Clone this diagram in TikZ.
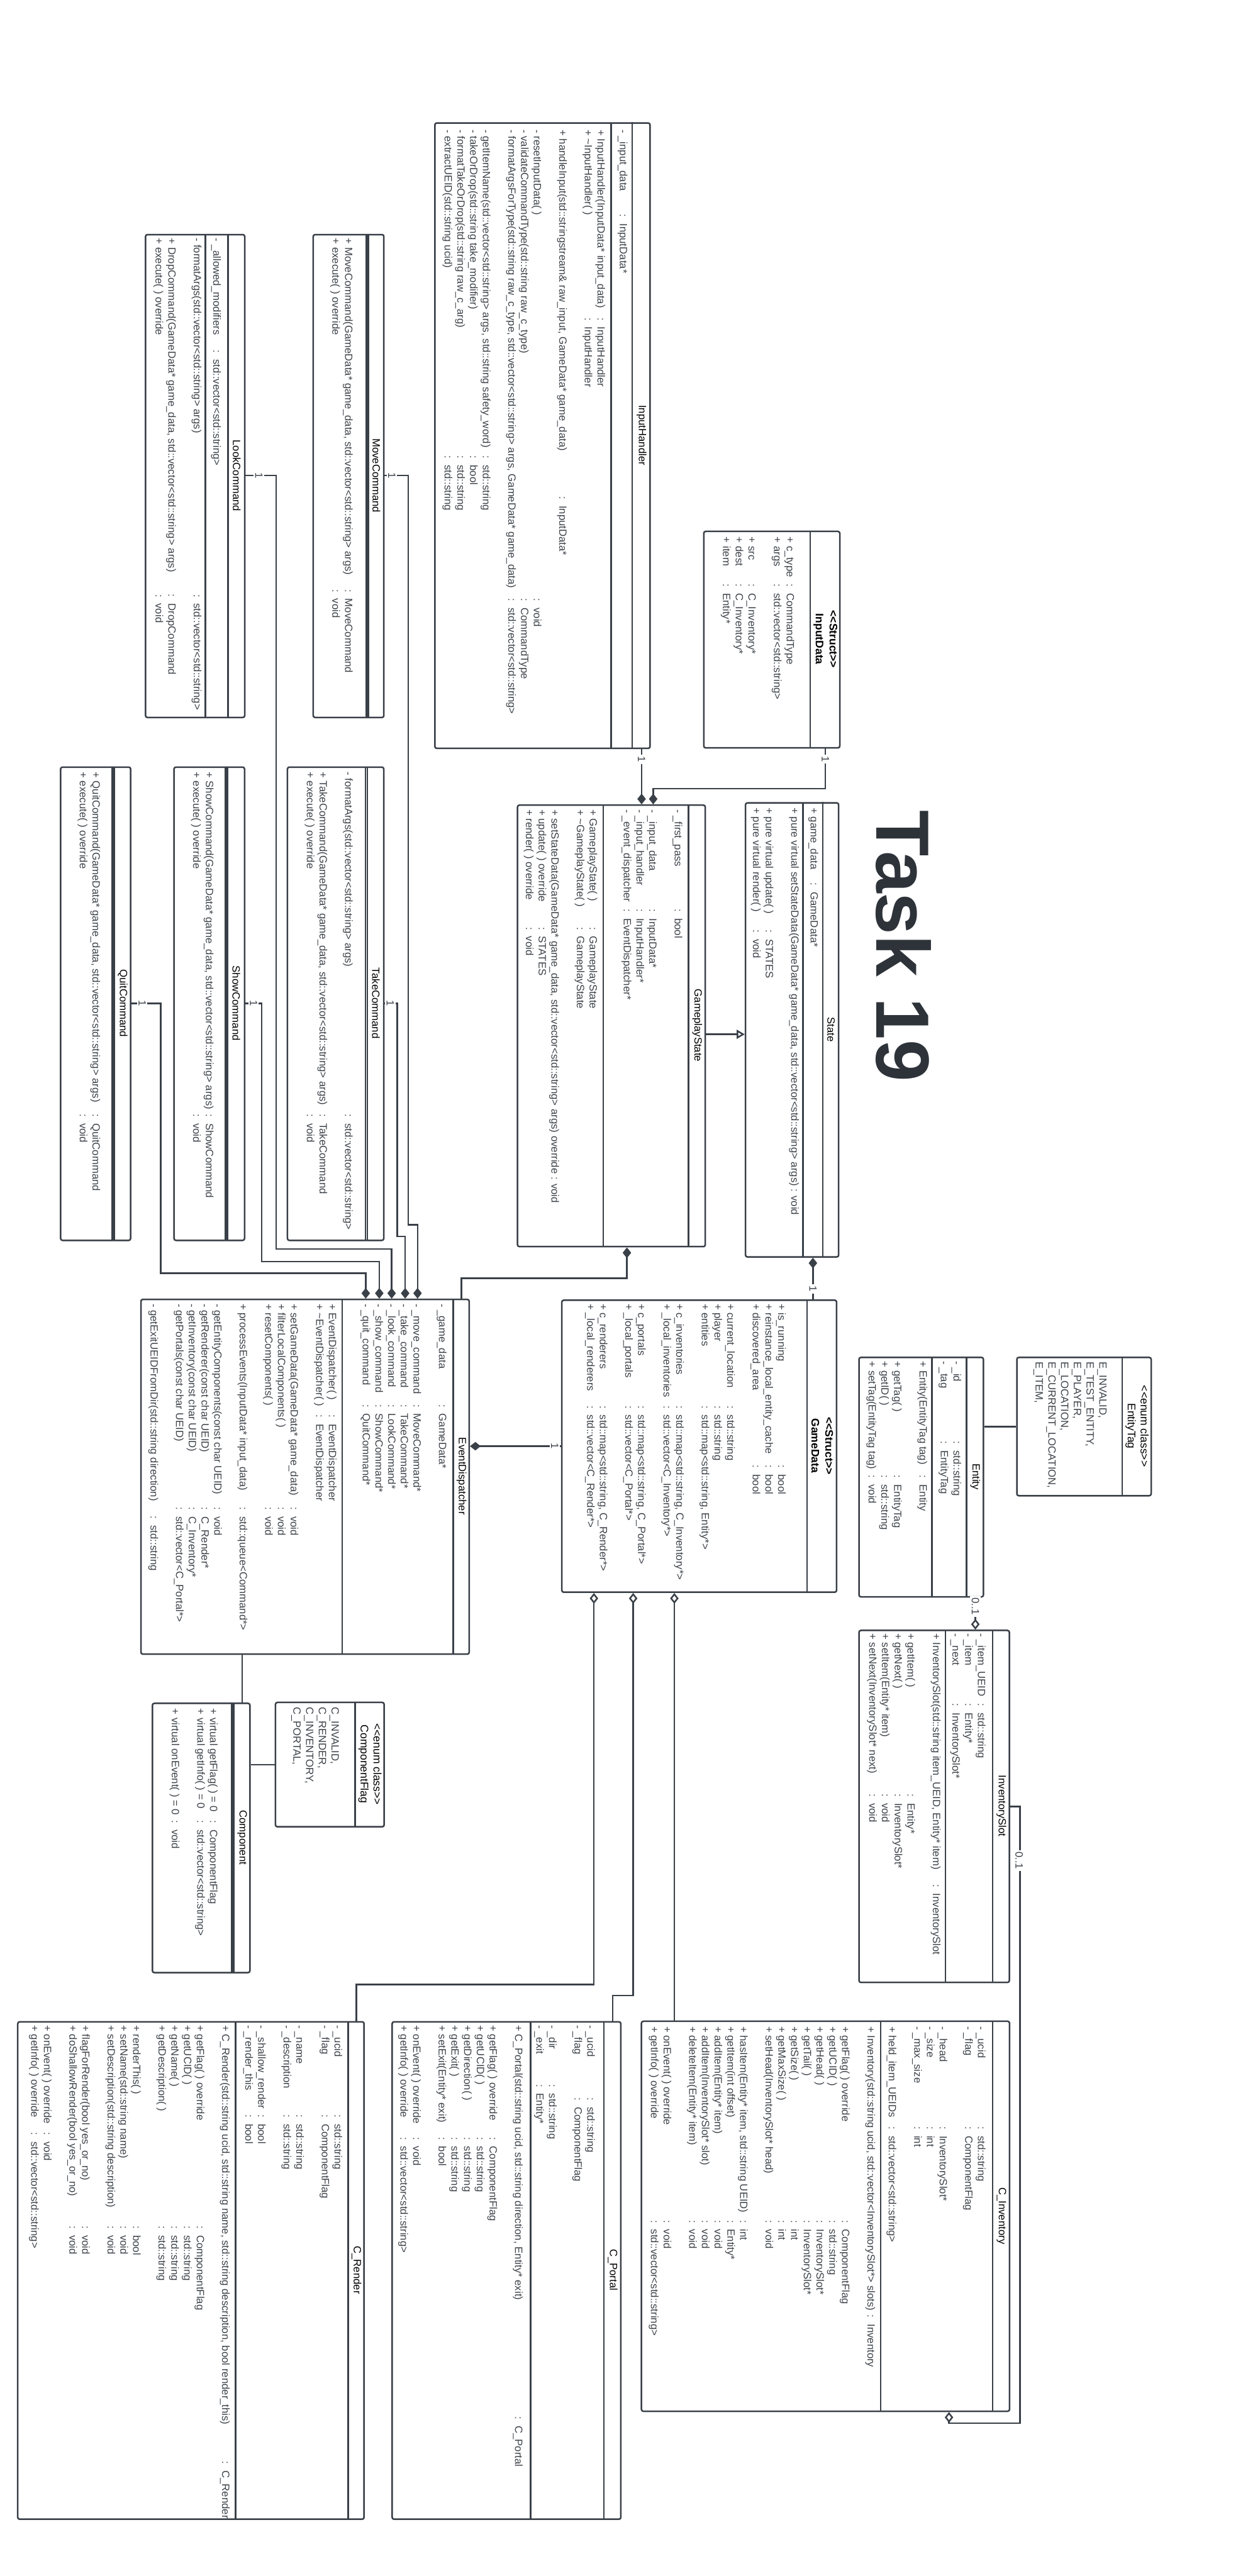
\documentclass[tikz,border=0pt]{standalone}
\usepackage{fontspec}
\usetikzlibrary{arrows.meta, positioning, calc}
\newfontfamily\umlfont{Liberation Sans}
\definecolor{umlline}{HTML}{3A4048}
\definecolor{umltext}{HTML}{3E434A}
\definecolor{umltitle}{HTML}{2E333A}
% one "name : type" row, colon at a fixed offset (cm)
\newcommand{\fld}[3]{\makebox[#1cm][l]{#2}:\hspace{0.14cm}#3}

\begin{document}
\begin{tikzpicture}[
  y=-1cm,
  every node/.style={font=\umlfont\fontsize{6.7}{8.1}\selectfont},
  box/.style={rectangle, draw=umlline, line width=1pt, fill=white, rounded corners=1.2pt, inner sep=0pt},
  cell/.style={rectangle, inner sep=0pt, anchor=north east},
  cname/.style={rotate=-90, inner sep=0pt, align=center, text=black},
  sname/.style={cname, font=\umlfont\bfseries\fontsize{7}{8.8}\selectfont},
  ename/.style={cname, font=\umlfont\fontsize{7}{8.2}\selectfont},
  ctext/.style={rotate=-90, anchor=north west, inner sep=0pt, align=left, text=umltext},
  div/.style={draw=umlline, line width=1pt},
  link/.style={draw=umlline, line width=1pt},
  comp/.style={link, {Diamond[length=0.24cm, width=0.19cm]}-},
  agg/.style={link, {Diamond[length=0.24cm, width=0.19cm, fill=white]}-},
  gen/.style={link, -{Triangle[length=0.18cm, width=0.2cm, fill=white]}},
  lbl/.style={rotate=-90, fill=white, inner sep=1pt, text=umltext},
]
\path[use as bounding box, fill=white] (0,0) rectangle (27.78,57.59);

% InputHandler
\node[box, minimum width=4.81cm, minimum height=13.98cm] (ih) at (12.125,9.74) {};
\node[cell, minimum width=0.40cm, minimum height=13.98cm] (ihN) at (ih.north east) {};
\node[cname] (ihT) at (ihN) {InputHandler};
\draw[div] (ihN.north west) -- (ihN.south west);
\draw[div] (13.66,2.75) -- (13.66,16.73);
\node[ctext] (ihA) at (14.06,2.895) {\strut\fld{1.89}{- \_input\_data}{InputData*}};
\node[ctext] (ihO) at (13.56,2.895) {\strut\fld{4.20}{+ InputHandler(InputData* input\_data)}{InputHandler}\\
  \fld{4.20}{+ \textasciitilde InputHandler( )}{InputHandler}\\ \strut\\
  \fld{8.20}{+ handleInput(std::stringstream\& raw\_input, GameData* game\_data)}{InputData*}\\ \strut\\
  \fld{10.48}{- resetInputData( )}{void}\\
  \fld{10.48}{- validateCommandType(std::string raw\_c\_type)}{CommandType}\\
  \fld{10.48}{- formatArgsForType(std::string raw\_c\_type, std::vector<std::string> args, GameData* game\_data)}{std::vector<std::string>}\\ \strut\\
  \fld{7.29}{- getItemName(std::vector<std::string> args, std::string safety\_word)}{std::string}\\
  \fld{7.29}{- takeOrDrop(std::string take\_modifier)}{bool}\\
  \fld{7.29}{- formatTakeOrDrop(std::string raw\_c\_arg)}{std::string}\\
  \fld{7.29}{- extractUEID(std::string ucid)}{std::string}};

% InputData
\node[box, minimum width=3.04cm, minimum height=4.84cm] (idt) at (17.25,14.30) {};
\node[cell, minimum width=0.663cm, minimum height=4.84cm] (idtN) at (idt.north east) {};
\node[sname] (idtT) at (idtN) {<<Struct>>\\InputData};
\draw[div] (idtN.north west) -- (idtN.south west);
\node[ctext] (idtA) at (17.79,12.00) {\strut\fld{1.05}{+ c\_type}{CommandType}\\
  \fld{1.05}{+ args}{std::vector<std::string>}\\ \strut\\
  \fld{1.05}{+ src}{C\_Inventory*}\\
  \fld{1.05}{+ dest}{C\_Inventory*}\\
  \fld{1.05}{+ item}{Entity*}};

% MoveCommand
\node[box, minimum width=1.58cm, minimum height=10.795cm] (mv) at (7.79,10.6425) {};
\node[cell, minimum width=0.353cm, minimum height=10.795cm] (mvN) at (mv.north east) {};
\node[cname] (mvT) at (mvN) {MoveCommand};
\draw[div] (mvN.north west) -- (mvN.south west);
\draw[div] ([xshift=-0.04cm]mvN.north west) -- ([xshift=-0.04cm]mvN.south west);
\node[ctext] (mvO) at (7.92,5.32) {\strut\fld{7.85}{+ MoveCommand(GameData* game\_data, std::vector<std::string> args)}{MoveCommand}\\
  \fld{7.85}{+ execute( ) override}{void}};

% LookCommand
\node[box, minimum width=2.217cm, minimum height=10.795cm] (lk) at (4.3615,10.6425) {};
\node[cell, minimum width=0.377cm, minimum height=10.795cm] (lkN) at (lk.north east) {};
\node[cname] (lkT) at (lkN) {LookCommand};
\draw[div] (lkN.north west) -- (lkN.south west);
\draw[div] (4.59,5.245) -- (4.59,16.04);
\node[ctext] (lkA) at (4.975,5.32) {\strut\fld{2.50}{- \_allowed\_modifiers}{std::vector<std::string>}};
\node[ctext] (lkO) at (4.54,5.32) {\strut\fld{7.96}{- formatArgs(std::vector<std::string> args)}{std::vector<std::string>}\\ \strut\\
  \fld{7.96}{+ DropCommand(GameData* game\_data, std::vector<std::string> args)}{DropCommand}\\
  \fld{7.96}{+ execute( ) override}{void}};

% TakeCommand
\node[box, minimum width=2.153cm, minimum height=10.58cm] (tk) at (7.5015,22.44) {};
\node[cell, minimum width=0.374cm, minimum height=10.58cm] (tkN) at (tk.north east) {};
\node[cname] (tkT) at (tkN) {TakeCommand};
\draw[div] (tkN.north west) -- (tkN.south west);
\draw[div] ([xshift=-0.04cm]tkN.north west) -- ([xshift=-0.04cm]tkN.south west);
\node[ctext] (tkO) at (7.92,17.25) {\strut\fld{7.65}{- formatArgs(std::vector<std::string> args)}{std::vector<std::string>}\\ \strut\\
  \fld{7.65}{+ TakeCommand(GameData* game\_data, std::vector<std::string> args)}{TakeCommand}\\
  \fld{7.65}{+ execute( ) override}{void}};

% ShowCommand
\node[box, minimum width=1.576cm, minimum height=10.58cm] (sh) at (4.678,22.44) {};
\node[cell, minimum width=0.388cm, minimum height=10.58cm] (shN) at (sh.north east) {};
\node[cname] (shT) at (shN) {ShowCommand};
\draw[div] (shN.north west) -- (shN.south west);
\draw[div] ([xshift=-0.04cm]shN.north west) -- ([xshift=-0.04cm]shN.south west);
\node[ctext] (shO) at (4.81,17.25) {\strut\fld{7.65}{+ ShowCommand(GameData* game\_data, std::vector<std::string> args)}{ShowCommand}\\
  \fld{7.65}{+ execute( ) override}{void}};

% QuitCommand
\node[box, minimum width=1.565cm, minimum height=10.58cm] (qt) at (2.1375,22.44) {};
\node[cell, minimum width=0.372cm, minimum height=10.58cm] (qtN) at (qt.north east) {};
\node[cname] (qtT) at (qtN) {QuitCommand};
\draw[div] (qtN.north west) -- (qtN.south west);
\draw[div] ([xshift=-0.04cm]qtN.north west) -- ([xshift=-0.04cm]qtN.south west);
\node[ctext] (qtO) at (2.275,17.25) {\strut\fld{7.65}{+ QuitCommand(GameData* game\_data, std::vector<std::string> args)}{QuitCommand}\\
  \fld{7.65}{+ execute( ) override}{void}};

% GameplayState
\node[box, minimum width=4.197cm, minimum height=9.87cm] (gs) at (13.6655,22.935) {};
\node[cell, minimum width=0.378cm, minimum height=9.87cm] (gsN) at (gs.north east) {};
\node[cname] (gsT) at (gsN) {GameplayState};
\draw[div] (gsN.north west) -- (gsN.south west);
\draw[div] (13.48,18.00) -- (13.48,27.87);
\node[ctext] (gsA) at (15.286,18.09) {\strut\fld{2.23}{- \_first\_pass}{bool}\\ \strut\\
  \fld{2.23}{- \_input\_data}{InputData*}\\
  \fld{2.23}{- \_input\_handler}{InputHandler*}\\
  \fld{2.23}{- \_event\_dispatcher}{EventDispatcher*}};
\node[ctext] (gsO) at (13.386,18.09) {\strut\fld{2.63}{+ GameplayState( )}{GameplayState}\\
  \fld{2.63}{+ \textasciitilde GameplayState( )}{GameplayState}\\ \strut\\
  + setStateData(GameData* game\_data, std::vector<std::string> args) override : void\\
  \fld{2.63}{+ update( ) override}{STATES}\\
  \fld{2.63}{+ render( ) override}{void}};

% State
\node[box, minimum width=2.082cm, minimum height=10.15cm] (st) at (17.704,23.025) {};
\node[cell, minimum width=0.359cm, minimum height=10.15cm] (stN) at (st.north east) {};
\node[cname] (stT) at (stN) {State};
\draw[div] (stN.north west) -- (stN.south west);
\draw[div] (17.945,17.95) -- (17.945,28.10);
\node[ctext] (stA) at (18.324,18.05) {\strut\fld{1.68}{+ game\_data}{GameData*}};
\node[ctext] (stO) at (17.893,18.05) {\strut+ pure virtual setStateData(GameData* game\_data, std::vector<std::string> args) : void\\ \strut\\
  \fld{2.73}{+ pure virtual update( )}{STATES}\\
  \fld{2.73}{+ pure virtual render( )}{void}};

\node[rotate=-90, inner sep=0pt, text=umltitle, font=\umlfont\bfseries\fontsize{48}{48}\selectfont] (title) at (20.19,21.15) {Task 19};

% EventDispatcher
\node[box, minimum width=7.337cm, minimum height=7.93cm] (ed) at (6.8185,33.015) {};
\node[cell, minimum width=0.363cm, minimum height=7.93cm] (edN) at (ed.north east) {};
\node[cname] (edT) at (edN) {EventDispatcher};
\draw[div] (edN.north west) -- (edN.south west);
\draw[div] (7.65,29.05) -- (7.65,36.98);
\node[ctext] (edA) at (10.02,29.14) {\strut\fld{2.25}{- \_game\_data}{GameData*}\\ \strut\\
  \fld{2.25}{- \_move\_command}{MoveCommand*}\\
  \fld{2.25}{- \_take\_command}{TakeCommand*}\\
  \fld{2.25}{- \_look\_command}{LookCommand*}\\
  \fld{2.25}{- \_show\_command}{ShowCommand*}\\
  \fld{2.25}{- \_quit\_command}{QuitCommand*}};
\node[ctext] (edO) at (7.558,29.14) {\strut\fld{2.48}{+ EventDispatcher( )}{EventDispatcher}\\
  \fld{2.48}{+ \textasciitilde EventDispatcher( )}{EventDispatcher}\\ \strut\\
  \fld{4.55}{+ setGameData(GameData* game\_data)}{void}\\
  \fld{4.55}{+ filterLocalComponents( )}{void}\\
  \fld{4.55}{+ resetComponents( )}{void}\\ \strut\\
  \fld{4.55}{+ processEvents(InputData* input\_data)}{std::queue<Command*>}\\ \strut\\
  \fld{4.55}{- getEntityComponents(const char UEID)}{void}\\
  \fld{4.55}{- getRenderer(const char UEID)}{C\_Render*}\\
  \fld{4.55}{- getInventory(const char UEID)}{C\_Inventory*}\\
  \fld{4.55}{- getPortals(const char UEID)}{std::vector<C\_Portal*>}\\ \strut\\
  \fld{4.75}{- getExitUEIDFromDir(std::string direction)}{std::string}};

% GameData
\node[box, minimum width=6.141cm, minimum height=6.529cm] (gd) at (15.6285,32.3315) {};
\node[cell, minimum width=0.664cm, minimum height=6.529cm] (gdN) at (gd.north east) {};
\node[sname] (gdT) at (gdN) {<<Struct>>\\GameData};
\draw[div] (gdN.north west) -- (gdN.south west);
\node[ctext] (gdA) at (17.60,29.14) {\strut\fld{3.61}{+ is\_running}{bool}\\
  \fld{3.61}{+ reinstance\_local\_entity\_cache}{bool}\\
  \fld{3.61}{+ discovered\_area}{bool}\\ \strut\\
  \fld{2.28}{+ current\_location}{std::string}\\
  \fld{2.28}{+ player}{std::string}\\
  \fld{2.28}{+ entities}{std::map<std::string, Entity*>}\\ \strut\\
  \fld{2.28}{+ c\_inventories}{std::map<std::string, C\_Inventory*>}\\
  \fld{2.28}{+ \_local\_inventories}{std::vector<C\_Inventory*>}\\ \strut\\
  \fld{2.28}{+ c\_portals}{std::map<std::string, C\_Portal*>}\\
  \fld{2.28}{+ \_local\_portals}{std::vector<C\_Portal*>}\\ \strut\\
  \fld{2.28}{+ c\_renderers}{std::map<std::string, C\_Render*>}\\
  \fld{2.28}{+ \_local\_renderers}{std::vector<C\_Render*>}};

% EntityTag
\node[box, minimum width=3.002cm, minimum height=3.091cm] (et) at (24.229,31.8925) {};
\node[cell, minimum width=0.65cm, minimum height=3.091cm] (etN) at (et.north east) {};
\node[ename] (etT) at (etN) {<<enum class>>\\EntityTag};
\draw[div] (etN.north west) -- (etN.south west);
\node[ctext] (etV) at (24.777,30.445) {\strut E\_INVALID,\\ E\_TEST\_ENTITY,\\ E\_PLAYER,\\ E\_LOCATION,\\ E\_CURRENT\_LOCATION,\\ E\_ITEM,};

% Entity
\node[box, minimum width=2.78cm, minimum height=5.353cm] (en) at (20.59,33.0235) {};
\node[cell, minimum width=0.38cm, minimum height=5.353cm] (enN) at (en.north east) {};
\node[cname] (enT) at (enN) {Entity};
\draw[div] (enN.north west) -- (enN.south west);
\draw[div] (20.83,30.347) -- (20.83,35.70);
\node[ctext] (enA) at (21.519,30.427) {\strut\fld{1.79}{- \_id}{std::string}\\ \fld{1.79}{- \_tag}{EntityTag}};
\node[ctext] (enO) at (20.76,30.427) {\strut\fld{2.55}{+ Entity(EntityTag tag)}{Entity}\\ \strut\\
  \fld{2.55}{+ getTag( )}{EntityTag}\\
  \fld{2.55}{+ getID( )}{std::string}\\
  \fld{2.55}{+ setTag(EntityTag tag)}{void}};

% InventorySlot
\node[box, minimum width=3.36cm, minimum height=7.87cm] (is) at (20.88,40.385) {};
\node[cell, minimum width=0.377cm, minimum height=7.87cm] (isN) at (is.north east) {};
\node[cname] (isT) at (isN) {InventorySlot};
\draw[div] (isN.north west) -- (isN.south west);
\draw[div] (21.133,36.45) -- (21.133,44.32);
\node[ctext] (isA) at (22.063,36.51) {\strut\fld{1.57}{- \_item\_UEID}{std::string}\\
  \fld{1.57}{- \_item}{Entity*}\\
  \fld{1.57}{- \_next}{InventorySlot*}};
\node[ctext] (isO) at (21.06,36.51) {\strut\fld{5.61}{+ InventorySlot(std::string item\_UEID, Entity* item)}{InventorySlot}\\ \strut\\
  \fld{3.59}{+ getItem( )}{Entity*}\\
  \fld{3.59}{+ getNext( )}{InventorySlot*}\\
  \fld{3.59}{+ setItem(Entity* item)}{void}\\
  \fld{3.59}{+ setNext(InventorySlot* next)}{void}};

% C_Inventory
\node[box, minimum width=8.228cm, minimum height=8.718cm] (ci) at (18.451,49.547) {};
\node[cell, minimum width=0.385cm, minimum height=8.718cm] (ciN) at (ci.north east) {};
\node[cname] (ciT) at (ciN) {C\_Inventory};
\draw[div] (ciN.north west) -- (ciN.south west);
\draw[div] (19.685,45.188) -- (19.685,53.906);
\node[ctext] (ciA) at (22.065,45.296) {\strut\fld{2.24}{- \_ucid}{std::string}\\
  \fld{2.24}{- \_flag}{ComponentFlag}\\ \strut\\
  \fld{2.24}{- \_head}{InventorySlot*}\\
  \fld{2.24}{- \_size}{int}\\
  \fld{2.24}{- \_max\_size}{int}\\ \strut\\
  \fld{2.24}{+ held\_item\_UEIDs}{std::vector<std::string>}};
\node[ctext] (ciO) at (19.596,45.296) {\strut\fld{6.45}{+ Inventory(std::string ucid, std::vector<InventorySlot*> slots)}{Inventory}\\ \strut\\
  \fld{4.33}{+ getFlag( ) override}{ComponentFlag}\\
  \fld{4.33}{+ getUCID( )}{std::string}\\
  \fld{4.33}{+ getHead( )}{InventorySlot*}\\
  \fld{4.33}{+ getTail( )}{InventorySlot*}\\
  \fld{4.33}{+ getSize( )}{int}\\
  \fld{4.33}{+ getMaxSize( )}{int}\\
  \fld{4.33}{+ setHead(InventorySlot* head)}{void}\\ \strut\\
  \fld{4.33}{+ hasItem(Entity* item, std::string UEID)}{int}\\
  \fld{4.33}{+ getItem(int offset)}{Entity*}\\
  \fld{4.33}{+ addItem(Entity* item)}{void}\\
  \fld{4.33}{+ addItem(InventorySlot* slot)}{void}\\
  \fld{4.33}{+ deleteItem(Entity* item)}{void}\\ \strut\\
  \fld{4.33}{+ onEvent( ) override}{void}\\
  \fld{4.33}{+ getInfo( ) override}{std::vector<std::string>}};

% C_Portal
\node[box, minimum width=5.112cm, minimum height=11.12cm] (cp) at (11.321,50.76) {};
\node[cell, minimum width=0.385cm, minimum height=11.12cm] (cpN) at (cp.north east) {};
\node[cname] (cpT) at (cpN) {C\_Portal};
\draw[div] (cpN.north west) -- (cpN.south west);
\draw[div] (11.859,45.20) -- (11.859,56.32);
\node[ctext] (cpA) at (13.334,45.27) {\strut\fld{1.62}{- \_ucid}{std::string}\\
  \fld{1.62}{- \_flag}{ComponentFlag}\\ \strut\\
  \fld{1.32}{- \_dir}{std::string}\\
  \fld{1.32}{- \_exit}{Entity*}};
\node[ctext] (cpO) at (11.72,45.27) {\strut\fld{8.75}{+ C\_Portal(std::string ucid, std::string direction, Entity* exit)}{C\_Portal}\\ \strut\\
  \fld{2.50}{+ getFlag( ) override}{ComponentFlag}\\
  \fld{2.50}{+ getUCID( )}{std::string}\\
  \fld{2.50}{+ getDirection( )}{std::string}\\
  \fld{2.50}{+ getExit( )}{std::string}\\
  \fld{2.50}{+ setExit(Entity* exit)}{bool}\\ \strut\\
  \fld{2.50}{+ onEvent( ) override}{void}\\
  \fld{2.50}{+ getInfo( ) override}{std::vector<std::string>}};

% C_Render
\node[box, minimum width=7.74cm, minimum height=11.12cm] (cr) at (4.267,50.76) {};
\node[cell, minimum width=0.359cm, minimum height=11.12cm] (crN) at (cr.north east) {};
\node[cname] (crT) at (crN) {C\_Render};
\draw[div] (crN.north west) -- (crN.south west);
\draw[div] (5.267,45.20) -- (5.267,56.32);
\node[ctext] (crA) at (7.684,45.27) {\strut\fld{2.00}{- \_ucid}{std::string}\\
  \fld{2.00}{- \_flag}{ComponentFlag}\\ \strut\\
  \fld{2.00}{- \_name}{std::string}\\
  \fld{2.00}{- \_description}{std::string}\\ \strut\\
  \fld{2.00}{- \_shallow\_render}{bool}\\
  \fld{2.00}{- \_render\_this}{bool}};
\node[ctext] (crO) at (5.173,45.27) {\strut\fld{9.75}{+ C\_Render(std::string ucid, std::string name, std::string description, bool render\_this)}{C\_Render}\\ \strut\\
  \fld{4.49}{+ getFlag( ) override}{ComponentFlag}\\
  \fld{4.49}{+ getUCID( )}{std::string}\\
  \fld{4.49}{+ getName( )}{std::string}\\
  \fld{4.49}{+ getDescription( )}{std::string}\\ \strut\\
  \fld{4.49}{+ renderThis( )}{bool}\\
  \fld{4.49}{+ setName(std::string name)}{void}\\
  \fld{4.49}{+ setDescription(std::string description)}{void}\\ \strut\\
  \fld{4.49}{+ flagForRender(bool yes\_or\_no)}{void}\\
  \fld{4.49}{+ doShallowRender(bool yes\_or\_no)}{void}\\ \strut\\
  \fld{2.40}{+ onEvent( ) override}{void}\\
  \fld{2.40}{+ getInfo( ) override}{std::vector<std::string>}};

% ComponentFlag
\node[box, minimum width=2.429cm, minimum height=2.78cm] (cf) at (7.3715,39.45) {};
\node[cell, minimum width=0.656cm, minimum height=2.78cm] (cfN) at (cf.north east) {};
\node[ename] (cfT) at (cfN) {<<enum class>>\\ComponentFlag};
\draw[div] (cfN.north west) -- (cfN.south west);
\node[ctext] (cfV) at (7.616,38.165) {\strut C\_INVALID,\\ C\_RENDER,\\ C\_INVENTORY,\\ C\_PORTAL,};

% Component
\node[box, minimum width=2.179cm, minimum height=6.02cm] (cm) at (4.4965,41.09) {};
\node[cell, minimum width=0.368cm, minimum height=6.02cm] (cmN) at (cm.north east) {};
\node[cname] (cmT) at (cmN) {Component};
\draw[div] (cmN.north west) -- (cmN.south west);
\draw[div] ([xshift=-0.04cm]cmN.north west) -- ([xshift=-0.04cm]cmN.south west);
\node[ctext] (cmO) at (4.90,38.19) {\strut\fld{2.50}{+ virtual getFlag( ) = 0}{ComponentFlag}\\
  \fld{2.50}{+ virtual getInfo( ) = 0}{std::vector<std::string>}\\ \strut\\
  \fld{2.50}{+ virtual onEvent( ) = 0}{void}};

% connectors
\coordinate (idBend) at (14.60,17.63);
\coordinate (gsArrow) at ($(gs.north east)!0.519!(gs.south east)$);
\coordinate (stD) at ($(st.south west)!0.72!(st.south east)$);
\coordinate (gsD) at ($(gs.south west)!0.582!(gs.south east)$);
\coordinate (edQ) at ($(ed.north west)!0.684!(ed.north east)$);
\coordinate (edS) at ($(ed.north west)!0.725!(ed.north east)$);
\coordinate (edL) at ($(ed.north west)!0.7625!(ed.north east)$);
\coordinate (edT) at ($(ed.north west)!0.8035!(ed.north east)$);
\coordinate (edM) at ($(ed.north west)!0.841!(ed.north east)$);
\coordinate (ciD) at ($(ci.south west)!0.834!(ci.south east)$);
\coordinate (gdI) at ($(gd.south west)!0.41!(gd.south east)$);
\coordinate (gdP) at ($(gd.south west)!0.261!(gd.south east)$);
\coordinate (gdR) at ($(gd.south west)!0.119!(gd.south east)$);

\draw[comp] (ihN.south |- gs.north) -- node[lbl, pos=0.8] (ihOne) {1} (ihN.south);
\draw[comp] (idBend |- gs.north) -- (idBend) -| node[lbl, pos=0.86] (idtOne) {1} (idtN.south);
\draw[gen] (gsArrow) -- (gsArrow -| st.west);
\draw[comp] (stD) -- node[lbl, pos=0.75] (stOne) {1} (stD |- gd.north);
\draw[comp] (gsD) -- ++(0,0.69) -| (edN.north);

\draw[comp] (edQ) -- ++(0,-0.57) -| ($(qtN.east)+(0.655,0)$) -- node[lbl, pos=0.63] (qtOne) {1} (qtN.east);
\draw[comp] (edS) -- ++(0,-0.83) -| ($(shN.east)+(0.364,0)$) -- node[lbl, pos=0.49] (shOne) {1} (shN.east);
\draw[comp] (edL) -- ++(0,-1.11) -| ($(lkN.east)+(0.685,0)$) -- node[lbl, pos=0.56] (lkOne) {1} (lkN.east);
\draw[comp] (edT) -- ++(0,-1.39) -| ($(tkN.east)+(0.28,0)$) -- node[lbl, pos=0.55] (tkOne) {1} (tkN.east);
\draw[comp] (edM) -- ++(0,-1.65) -| ($(mvN.east)+(0.53,0)$) -- node[lbl, pos=0.7] (mvOne) {1} (mvN.east);

\draw[comp] (gd.west -| ed.east) -- node[lbl, pos=0.93] (gdOne) {1} (gd.west);
\draw[link] (cmN.north) -- (cmN.north |- ed.south);
\draw[link] (cf.west) -- (cf.west -| cm.east);
\draw[link] (et.west) -- (et.west -| en.east);

\draw[agg] (enN.south |- is.north) -- node[lbl, pos=0.71] (enOne) {0..1} (enN.south);
\draw[agg] (ciD) -- ++(0,0.25) -| ($(is.east)+(0.22,0)$) -- (is.east);
\node[lbl] (isOne) at (22.78,41.59) {0..1};
\draw[agg] (gdI) -- (gdI |- ci.north);
\draw[agg] (gdP) -- ++(0,9.0) -| (cpN.north);
\draw[agg] (gdR) -- ++(0,8.75) -| (crN.north);
\end{tikzpicture}
\end{document}
